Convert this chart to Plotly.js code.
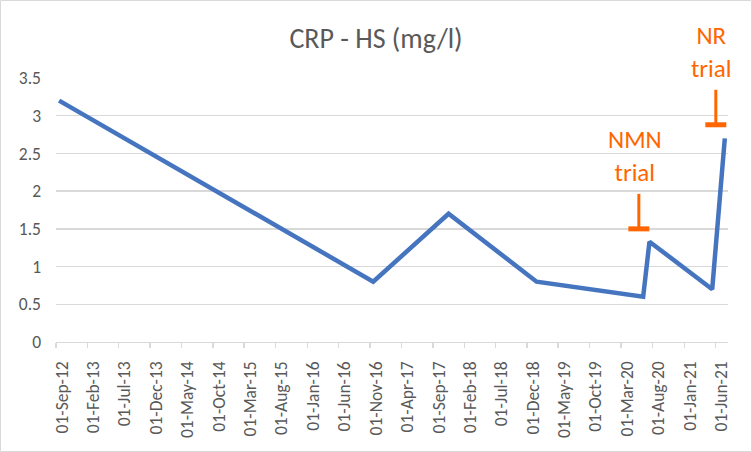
<!DOCTYPE html>
<html>
<head>
<meta charset="utf-8">
<script src="https://cdn.plot.ly/plotly-3.0.1.min.js"></script>
<style>body{margin:0;padding:0;background:#fff;}#chart{width:752px;height:452px;}</style>
</head>
<body>
<div id="chart"></div>
<script>
// Measurement months (CRP-HS readings)
var months = ['2012-09','2016-11','2017-11','2019-01','2020-06','2020-07','2021-05','2021-07'];
var crpValues = [3.2, 0.8, 1.7, 0.8, 0.6, 1.33, 0.7, 2.7];
// Trial start markers
var trialNames = ['NMN<br>trial', 'NR<br>trial'];
var trialDates = ['2020-05-26', '2021-06-03'];
var trialLevels = [1.5, 2.88];

var FONT = 'Calibri, Carlito, Lato, sans-serif';
var GRAY = '#595959';
var GRID = '#d9d9d9';
var ORANGE = '#ff6600';

var shapes = [];
var annotations = [];
for (var i = 0; i < trialDates.length; i++) {
  shapes.push({type:'line', xref:'x', yref:'y', x0:trialDates[i], x1:trialDates[i],
    ysizemode:'pixel', yanchor:trialLevels[i], y0:0, y1:35,
    line:{color:ORANGE, width:3}});
  shapes.push({type:'line', xref:'x', yref:'y', xsizemode:'pixel', xanchor:trialDates[i],
    x0:-10.5, x1:10.5, y0:trialLevels[i], y1:trialLevels[i],
    line:{color:ORANGE, width:5}});
  annotations.push({xref:'x', yref:'y', x:trialDates[i], y:trialLevels[i],
    text:trialNames[i], showarrow:false, xanchor:'center', yanchor:'bottom',
    xshift:-4, yshift:39, font:{family:FONT, size:25, color:ORANGE}});
}
// chart outer border
shapes.push({type:'rect', xref:'paper', yref:'paper',
  x0:-55.5/672, x1:1+23.5/672, y0:-109.5/264, y1:1+77.5/264,
  line:{color:GRID, width:1}, fillcolor:'rgba(0,0,0,0)'});

var trace = {
  x: months, y: crpValues, xperiod:'M1', xperiodalignment:'middle',
  type:'scatter', mode:'lines', cliponaxis:false,
  line:{color:'#4675c0', width:4.5}, hoverinfo:'x+y'
};

var layout = {
  width:752, height:452,
  margin:{l:56, r:24, t:78, b:110, pad:0},
  paper_bgcolor:'#fff', plot_bgcolor:'#fff',
  showlegend:false,
  title:{text:'CRP - HS (mg/l)', x:0.5, xanchor:'center', y:1-38/452, yanchor:'middle',
    font:{family:FONT, size:28, color:GRAY}},
  xaxis:{type:'date', range:['2012-09-01','2021-08-01'], tick0:'2012-09-01', dtick:'M5',
    tickformat:'%d-%b-%y', tickangle:-90, ticks:'outside', ticklen:5, tickcolor:GRID, tickwidth:1.3,
    showline:true, linecolor:GRID, linewidth:1.3, showgrid:false, zeroline:false,
    ticklabelshift:6, ticklabelstandoff:6,
    tickfont:{family:FONT, size:17.5, color:GRAY}},
  yaxis:{range:[0,3.5], dtick:0.5, tick0:0, showline:false, zeroline:false,
    gridcolor:GRID, gridwidth:1.3, ticks:'', ticklabelstandoff:14,
    tickfont:{family:FONT, size:17.5, color:GRAY}},
  shapes:shapes, annotations:annotations
};

Plotly.newPlot('chart', [trace], layout, {displayModeBar:false, staticPlot:true});
</script>
</body>
</html>
